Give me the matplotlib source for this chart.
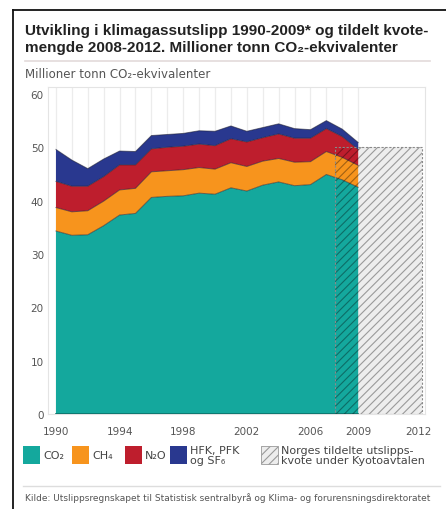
import numpy as np
import matplotlib.pyplot as plt
from matplotlib.patches import Rectangle

plt.rcParams['font.family'] = ['DejaVu Sans']
plt.rcParams['hatch.linewidth'] = 0.8

# Utslipp per gass, millioner tonn CO2-ekvivalenter
years = list(range(1990, 2010))
co2 = [34.3, 33.5, 33.6, 35.3, 37.3, 37.6, 40.6, 40.8, 40.9, 41.4,
       41.2, 42.4, 41.8, 42.9, 43.5, 42.8, 43.0, 44.9, 43.9, 42.5]
ch4 = [4.4, 4.4, 4.5, 4.6, 4.7, 4.7, 4.8, 4.8, 4.9, 4.8,
       4.7, 4.7, 4.6, 4.5, 4.4, 4.4, 4.3, 4.3, 4.2, 4.1]
n2o = [4.9, 4.8, 4.6, 4.6, 4.7, 4.4, 4.3, 4.4, 4.4, 4.4,
       4.4, 4.5, 4.6, 4.4, 4.6, 4.5, 4.4, 4.3, 3.9, 3.0]
fgas = [6.0, 4.9, 3.3, 3.3, 2.6, 2.5, 2.5, 2.4, 2.4, 2.5,
        2.7, 2.4, 2.0, 1.9, 1.9, 1.8, 1.6, 1.5, 1.4, 1.3]

# Tildelt kvote per år i Kyoto-perioden
quota_years = [2008, 2012]
quota = 50.1

xticks = [1990, 1994, 1998, 2002, 2006, 2009, 2012]
yticks = [0, 10, 20, 30, 40, 50, 60]

colors = ['#14a89d', '#f7941d', '#be1e2d', '#29388f']

W, H = 446, 510
fig = plt.figure(figsize=(W / 100, H / 100), dpi=100)

def fx(x):
    return x / W

def fy(y):
    return 1 - y / H

ax = fig.add_axes([fx(48), fy(415), fx(425) - fx(48), fy(88) - fy(415)])

# svake vertikale linjer for hvert år
for y in years:
    ax.axvline(y, color='#ececec', lw=0.9, zorder=0)

# kvoteboks bak arealet
q0 = quota_years[0] - 0.45
q1 = quota_years[1] + 1.0
ax.add_patch(Rectangle((q0, 0), q1 - q0, quota, facecolor='#ededed',
                       edgecolor='none', zorder=1))

ax.stackplot(years, co2, ch4, n2o, fgas, colors=colors, lw=0, zorder=2)
tops = np.cumsum([co2, ch4, n2o, fgas], axis=0)
for t in tops:
    ax.plot(years, t, color='#1a1a2a', lw=0.7, alpha=0.55, zorder=3)
ax.plot([years[0], years[-1]], [0, 0], color='#0b6f68', lw=1.2, zorder=3)

# skravur over både arealet og kvoteboksen
ax.add_patch(Rectangle((q0, 0), q1 - q0, quota, facecolor='none',
                       edgecolor=(0, 0, 0, 0.35), hatch='////', lw=0,
                       zorder=4))
ax.add_patch(Rectangle((q0, 0), q1 - q0, quota, facecolor='none',
                       edgecolor='#8a8a8a', ls=(0, (2, 1.5)), lw=0.8,
                       zorder=5))

ax.set_xlim(1989.5, 2013.2)
ax.set_ylim(0, 61.3)
ax.set_yticks(yticks)
ax.set_yticklabels([str(v) for v in yticks])
ax.set_xticks([t if t != 2012 else q1 - 0.2 for t in xticks])
ax.set_xticklabels([str(t) for t in xticks])
ax.tick_params(length=0, labelsize=7.5, colors='#555555', pad=3)
ax.tick_params(axis='x', pad=9)
for s in ax.spines.values():
    s.set_color('#e4e4e4')
    s.set_linewidth(0.8)

# ramme
fig.add_artist(plt.Line2D([fx(13), 1], [fy(11), fy(11)], color='#111111', lw=1.3))
fig.add_artist(plt.Line2D([fx(13), fx(13)], [fy(11), 0], color='#111111', lw=1.3))

title_font = ['Liberation Sans', 'DejaVu Sans']
fig.text(fx(25), fy(31), 'Utvikling i klimagassutslipp 1990-2009* og tildelt kvote-',
         fontsize=11, fontweight='bold', color='#222222', va='center',
         family=title_font)
fig.text(fx(25), fy(48), 'mengde 2008-2012. Millioner tonn CO₂-ekvivalenter',
         fontsize=11, fontweight='bold', color='#222222', va='center',
         family=title_font)
fig.add_artist(plt.Line2D([fx(25), fx(430)], [fy(62), fy(62)], color='#e3dada', lw=1.2))
fig.text(fx(25), fy(75), 'Millioner tonn CO₂-ekvivalenter', fontsize=8.5,
         color='#555555', va='center')

# tegnforklaring
legend = [
    (23, colors[0], None, 'CO₂'),
    (72, colors[1], None, 'CH₄'),
    (125, colors[2], None, 'N₂O'),
    (170, colors[3], None, 'HFK, PFK\nog SF₆'),
    (261, '#ededed', '////', 'Norges tildelte utslipps-\nkvote under Kyotoavtalen'),
]
for x, c, h, label in legend:
    fig.add_artist(Rectangle((fx(x), fy(465)), fx(17), fy(447) - fy(465),
                             facecolor=c, edgecolor='#999999' if h else 'none',
                             hatch=h, lw=0.6 if h else 0))
    fig.text(fx(x + 20), fy(456), label, fontsize=8, color='#444444',
             va='center', linespacing=1.0)

fig.add_artist(plt.Line2D([fx(23), fx(440)], [fy(487), fy(487)], color='#dddddd', lw=1.0))
fig.text(fx(25), fy(498),
         'Kilde: Utslippsregnskapet til Statistisk sentralbyrå og Klima- og forurensningsdirektoratet',
         fontsize=6.5, color='#555555', va='center')

fig.savefig('out.png', dpi=100)
